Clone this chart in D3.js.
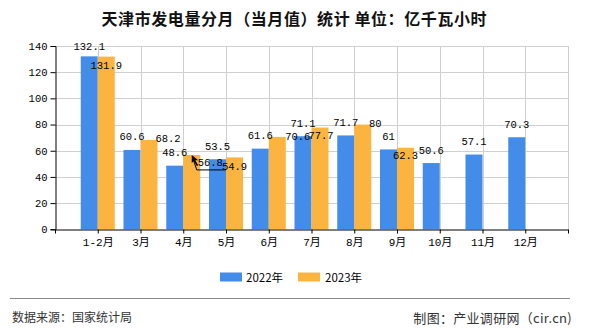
<!DOCTYPE html>
<html><head><meta charset="utf-8">
<script src="https://cdn.jsdelivr.net/npm/d3@7/dist/d3.min.js"></script>
<style>html,body{margin:0;padding:0;background:#fff;}</style>
</head><body>
<svg id="c" width="590" height="330"></svg>
<script>
const categories = ["1-2月","3月","4月","5月","6月","7月","8月","9月","10月","11月","12月"];
const series2022 = [132.1,60.6,48.6,53.5,61.6,71.1,71.7,61,50.6,57.1,70.3];
const series2023 = [131.9,68.2,56.8,54.9,70.6,77.7,80,62.3,null,null,null];
const seriesNames = ["2022年","2023年"];
const yTicks = [0,20,40,60,80,100,120,140];
const title = "天津市发电量分月（当月值）统计 单位：亿千瓦小时";
const source = "数据来源：国家统计局";
const maker = "制图：产业调研网（cir.cn)";

const colors = ["#438CEA","#FBB440"];
const svg = d3.select("#c");
const L = 55, R = 568, T = 46, B = 229.3;
const x = d3.scaleLinear().domain([0, categories.length + 1]).range([L, R]);
const y = d3.scaleLinear().domain([0, 140]).range([B, T]);
const bw = 17;
const monoFont = "'Liberation Mono','Noto Sans CJK SC',monospace";
const cjkFont = "'Noto Sans CJK SC','Noto Sans',sans-serif";

// title
svg.append("text").attr("x", 294).attr("y", 18).attr("text-anchor","middle")
  .attr("dominant-baseline","central").attr("font-family", cjkFont)
  .attr("font-size", 16).attr("font-weight","bold").attr("fill","#111")
  .attr("textLength", 385).attr("lengthAdjust","spacing").text(title);

// grid
const xt = d3.range(0, categories.length + 2);
svg.append("g").selectAll("line").data(xt.slice(1)).join("line")
  .attr("x1", d => Math.round(x(d)) + 0.5).attr("x2", d => Math.round(x(d)) + 0.5)
  .attr("y1", T).attr("y2", B).attr("stroke","#d0d0d0");
svg.append("g").selectAll("line").data(yTicks.slice(1)).join("line")
  .attr("x1", L).attr("x2", R)
  .attr("y1", d => Math.round(y(d)) + 0.5).attr("y2", d => Math.round(y(d)) + 0.5)
  .attr("stroke","#d0d0d0");

// bars
const groups = [series2022, series2023];
groups.forEach((vals, s) => {
  svg.append("g").selectAll("rect").data(vals.map((v,i)=>({v,i})).filter(d=>d.v!=null)).join("rect")
    .attr("x", d => x(d.i + 1) - bw + s * bw)
    .attr("width", bw)
    .attr("y", d => y(d.v))
    .attr("height", d => y(0) - y(d.v))
    .attr("fill", colors[s]);
});

// axes
const yAxis = d3.axisLeft(y).tickValues(yTicks).tickSize(5).tickPadding(3);
const gy = svg.append("g").attr("transform", `translate(${L+0.5},0)`).call(yAxis);
gy.select(".domain").attr("stroke","#000");
gy.selectAll(".tick line").attr("stroke","#000");
gy.selectAll("text").attr("font-family", monoFont).attr("font-size", 10.5).attr("fill","#000");

const xAxis = d3.axisBottom(x).tickValues(xt).tickSize(4).tickSizeOuter(0)
  .tickFormat(d => (d >= 1 && d <= categories.length) ? categories[d-1] : "");
const gx = svg.append("g").attr("transform", `translate(0,${Math.round(B)+0.5})`).call(xAxis);
gx.select(".domain").attr("stroke","#000");
gx.selectAll(".tick line").attr("stroke","#000");
gx.selectAll("text").attr("font-family", monoFont).attr("font-size", 11).attr("fill","#000").attr("dy","0.9em");

// value labels (layout nudges applied by the drawing code)
const nudge = [
  {0:[0,-9]},
  {0:[0,9],1:[19,-1],2:[18.5,8],3:[0,10],4:[20.5,0],5:[1,8],6:[12.5,-1],7:[0,8]}
];
groups.forEach((vals, s) => {
  vals.forEach((v, i) => {
    if (v == null) return;
    const cx = x(i + 1) - bw/2 + s * bw;
    const n = nudge[s][i] || [0, -12.5];
    svg.append("text").attr("x", cx + n[0]).attr("y", y(v) + n[1])
      .attr("text-anchor","middle").attr("dominant-baseline","central")
      .attr("font-family", monoFont).attr("font-size", 10.5).attr("fill","#000").text(v);
  });
});
// leader line for the moved 4月 2023 label
const lx = x(3) + bw/2, ly = y(series2023[2]);
svg.append("polyline")
  .attr("points", `${lx+1},${ly+3} ${lx+5},${ly+15} ${lx+34},${ly+15}`)
  .attr("fill","none").attr("stroke","#000").attr("stroke-width",1);
svg.append("path").attr("d", `M${lx},${ly} l0,8 l2,-2 l3,5 l1.5,-0.8 l-3,-5 l3,0 z`).attr("fill","#000");

// legend
const lg = [[220, 246],[298, 325]];
seriesNames.forEach((nm, s) => {
  svg.append("rect").attr("x", lg[s][0]).attr("y", 272.5).attr("width", 22).attr("height", 9).attr("fill", colors[s]);
  svg.append("text").attr("x", lg[s][1]).attr("y", 277).attr("dominant-baseline","central")
    .attr("font-family", cjkFont).attr("font-size", 11.5).attr("fill","#000").text(nm);
});

// footer
svg.append("line").attr("x1", 10).attr("x2", 570).attr("y1", 298.5).attr("y2", 298.5).attr("stroke","#888").attr("stroke-width",1);
svg.append("text").attr("x", 12).attr("y", 316).attr("dominant-baseline","central")
  .attr("font-family", cjkFont).attr("font-size", 12).attr("fill","#333").text(source);
svg.append("text").attr("x", 572).attr("y", 317).attr("text-anchor","end").attr("dominant-baseline","central")
  .attr("font-family", cjkFont).attr("font-size", 13).attr("letter-spacing", "0.3px").attr("fill","#333")
  .text(maker);
</script>
</body></html>
